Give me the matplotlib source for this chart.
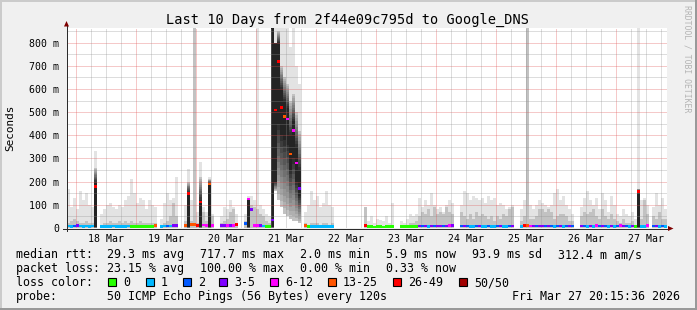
import numpy as np
import matplotlib
matplotlib.use("Agg")
import matplotlib.pyplot as plt
import matplotlib.dates as mdates
from matplotlib.patches import Rectangle, Polygon
from matplotlib.lines import Line2D
from datetime import datetime, timedelta

nan = float("nan")

# ---------------- data ----------------
title = "Last 10 Days from 2f44e09c795d to Google_DNS"
t_start = datetime(2026, 3, 17, 20, 15, 36)
t_end = datetime(2026, 3, 27, 20, 15, 36)

day_labels = ["18 Mar", "19 Mar", "20 Mar", "21 Mar", "22 Mar",
              "23 Mar", "24 Mar", "25 Mar", "26 Mar", "27 Mar"]
y_ticks = [0.0, 0.1, 0.2, 0.3, 0.4, 0.5, 0.6, 0.7, 0.8]
y_labels = ["0", "100 m", "200 m", "300 m", "400 m", "500 m", "600 m", "700 m", "800 m"]

loss_colors = ["#26ff00", "#00b8ff", "#0059ff", "#7e00ff",
               "#ff00ff", "#ff5500", "#ff0000", "#a10000"]
loss_labels = ["0", "1", "2", "3-5", "6-12", "13-25", "26-49", "50/50"]

# loss colour index per 72-minute bin (-1 = no data)
loss = [
    1, 1, 2, 3, 1, 1, 1, 1, 1, 6,
    -1,
    1, 1, 1, 1, 1, 1, 1, 1, 1, 1, 0, 0, 0, 0, 0, 0, 0, 0, 5,
    -1,
    1, 1, 2, 1, 3, 3,
    -1, -1,
    5, 6, 5, 5, 6, 6, 4, 4, 5, 4,
    -1, -1,
    3, 3, 4, 3, 4, 6,
    -1, -1,
    2, 4, 3, 4, 4, 3, 1, 0, 0, 3,
    6, 6, 6, 5, 4, 5, 4, 4, 3,
    -1,
    5, 0, 1, 1, 1, 1, 1, 1, 1, 1,
    -1, -1, -1, -1, -1, -1, -1, -1, -1, -1,
    6, 0, 0, 0, 0, 0, 0, 0, 0, 0,
    -1, -1,
    0, 0, 0, 0, 0, 0, 3, 2, 3, 1, 3, 2, 3, 3, 2, 3, 4, 3,
    -1, -1,
    2, 3, 2, 1, 1, 2, 3, 1, 1, 2, 1, 1, 2, 3, 1, 1, 2, 3,
    -1, -1,
    1, 6, 5, 4,
    3, 2, 3, 3, 2, 3, 2, 1, 2, 3, 1, 2, 3, 2,
    -1, -1,
    3, 2, 1, 3, 1, 4, 2, 3, 2, 1, 3, 1, 2, 4, 3, 2, 1, 3,
    0,
    6,
    1, 1, 4, -1, 2, 3, 1, 2, 1,
]

# median rtt (s)
med = [
    .008, .007, .009, .010, .008, .007, .008, .007, .008, .180,
    nan,
    .007, .007, .006, .007, .008, .007, .006, .007, .007, .008, .006, .006, .007, .006, .006, .007, .006, .006, .012,
    nan,
    .007, .008, .009, .008, .010, .011,
    nan, nan,
    .012, .150, .015, .014, .012, .112, .013, .011, .190, .012,
    nan, nan,
    .010, .011, .012, .010, .012, .015,
    nan, nan,
    .020, .125, .080, .012, .010, .010, .008, .007, .007, .035,
    .510, .718, .520, .480, .470, .320, .420, .280, .170,
    nan,
    .012, .006, .006, .007, .006, .006, .007, .006, .006, .007,
    nan, nan, nan, nan, nan, nan, nan, nan, nan, nan,
    .010, .006, .006, .005, .006, .006, .005, .006, .006, .006,
    nan, nan,
    .006, .006, .006, .006, .006, .007, .009, .008, .009, .007, .009, .008, .009, .009, .008, .009, .011, .010,
    nan, nan,
    .008, .009, .008, .007, .007, .008, .009, .007, .007, .008, .007, .007, .008, .009, .007, .007, .008, .009,
    nan, nan,
    .007, .012, .010, .009,
    .009, .008, .009, .009, .008, .009, .008, .007, .008, .009, .007, .008, .009, .008,
    nan, nan,
    .009, .008, .007, .009, .007, .010, .008, .009, .008, .007, .009, .007, .008, .010, .009, .008, .007, .009,
    .006,
    .157,
    .007, .007, .010, nan, .008, .009, .007, .008, .007,
]

# highest ping of each bin (top of the light smoke, s)
hi = [
    .17, .09, .13, .08, .16, .12, .15, .10, .09, .333,
    nan,
    .06, .08, .10, .11, .09, .08, .10, .09, .12, .14, .21, .15, .11, .13, .12, .08, .12, .10, .09,
    nan,
    .04, .11, .15, .12, .13, .22,
    nan, nan,
    .10, .255, .12, .95, .07, .283, .09, .07, .222, .06,
    nan, nan,
    .05, .09, .08, .12, .09, .06,
    nan, nan,
    .06, .14, .14, .12, .95, .10, .08, .06, .05, .95,
    .95, .95, .95, .95, .90, .78, .87, .70, .62,
    nan,
    .07, .10, .16, .12, .14, .09, .11, .16, .10, .09,
    nan, nan, nan, nan, nan, nan, nan, nan, nan, nan,
    .092, .03, .05, .02, .04, .035, .03, .05, .02, .11,
    nan, nan,
    .03, .02, .04, .06, .05, .06, .13, .09, .12, .10, .15, .10, .08, .09, .07, .10, .12, .11,
    nan, nan,
    .10, .16, .15, .12, .14, .13, .12, .13, .11, .14, .12, .13, .10, .11, .10, .08, .09, .10,
    nan, nan,
    .08, .12, .95, .10,
    .08, .10, .12, .11, .10, .09, .10, .15, .17, .12, .14, .10, .08, .06,
    nan, nan,
    .09, .13, .16, .12, .10, .13, .08, .15, .12, .07, .14, .10, .06, .05, .08, .06, .05, .07,
    .04,
    .95,
    .12, .13, .10, nan, .09, .15, .10, .13, .08,
]

# upper edge of the denser (mid-grey) smoke (s)
mid = [
    .02, .03, .04, .03, .02, .02, .03, .02, .02, .26,
    nan,
    .01, .02, .02, .03, .02, .02, .03, .02, .03, .02, .03, .02, .02, .03, .02, .02, .02, .02, .02,
    nan,
    .01, .02, .03, .05, .11, .05,
    nan, nan,
    .03, .20, .03, .95, .02, .22, .07, .03, .21, .05,
    nan, nan,
    .02, .03, .04, .07, .08, .02,
    nan, nan,
    .03, .13, .10, .09, .08, .06, .05, .03, .02, .87,
    .80, .85, .70, .65, .62, .55, .58, .50, .42,
    nan,
    .02, .01, .02, .02, .02, .01, .02, .02, .01, .02,
    nan, nan, nan, nan, nan, nan, nan, nan, nan, nan,
    .092, .01, .01, .01, .01, .01, .01, .01, .01, .01,
    nan, nan,
    .01, .01, .01, .02, .02, .03, .05, .07, .06, .08, .05, .09, .06, .07, .06, .09, .07, .06,
    nan, nan,
    .07, .05, .04, .06, .04, .07, .05, .06, .05, .04, .05, .03, .05, .04, .06, .05, .08, .09,
    nan, nan,
    .03, .05, .95, .04,
    .04, .05, .08, .08, .07, .08, .07, .04, .05, .06, .06, .05, .03, .03,
    nan, nan,
    .05, .07, .06, .07, .08, .05, .04, .08, .05, .04, .06, .04, .03, .02, .04, .02, .02, .03,
    .01,
    .17,
    .04, .12, .06, nan, .05, .04, .07, .04, .04,
]

# bins with a dense (black) core of pings
core_bins = [9, 40, 44, 47, 60, 68, 69, 70, 71, 72, 73, 74, 75, 76, 77, 190]
core_lo = [.004, .004, .004, .004, .004, .004, .20, .45, .40, .38, .36, .25, .30, .20, .14, .004]
core_hi = [.195, .150, .114, .193, .130, .870, .80, .80, .60, .55, .52, .40, .46, .35, .25, .160]

# bins whose lowest ping is well above zero
low_bins = [69, 70, 71, 72, 73, 74, 75, 76, 77]
low_vals = [.16, .12, .09, .06, .05, .04, .03, .03, .02]

rtt_stats = ["29.3 ms avg", "717.7 ms max", "2.0 ms min", "5.9 ms now", "93.9 ms sd", "312.4 m am/s"]
loss_stats = ["23.15 % avg", "100.00 % max", "0.00 % min", "0.33 % now"]
probe_text = "50 ICMP Echo Pings (56 Bytes) every 120s"
stamp_text = "Fri Mar 27 20:15:36 2026"

# ---------------- figure ----------------
W, H, DPI = 697, 310, 100
MONO = "DejaVu Sans Mono"
plt.rcParams["font.family"] = [MONO]

fig = plt.figure(figsize=(W / DPI, H / DPI), dpi=DPI)
fig.patch.set_facecolor("#f0f0f0")


def fx(x):
    return x / W


def fy(y):
    return 1 - y / H


# shaded frame
fig.add_artist(Rectangle((0, fy(2)), 1, 2 / H, transform=fig.transFigure, color="#cbcbcb", lw=0))
fig.add_artist(Rectangle((0, 0), 2 / W, 1, transform=fig.transFigure, color="#cbcbcb", lw=0))
fig.add_artist(Rectangle((0, 0), 1, 2.5 / H, transform=fig.transFigure, color="#999999", lw=0))
fig.add_artist(Rectangle((fx(W - 2.5), 0), 2.5 / W, 1, transform=fig.transFigure, color="#999999", lw=0))

PX_L, PX_R, PX_T, PX_B = 67, 667, 28, 228
PX_PER_S = 231.7
ax = fig.add_axes([fx(PX_L), fy(PX_B), (PX_R - PX_L) / W, (PX_B - PX_T) / H])
ax.set_facecolor("white")
x0 = mdates.date2num(t_start)
x1 = mdates.date2num(t_end)
ax.set_xlim(x0, x1)
ax.set_ylim(0, (PX_B - PX_T) / PX_PER_S)
for s in ax.spines.values():
    s.set_visible(False)

n = len(loss)
bw = (x1 - x0) / n
xs = x0 + bw * np.arange(n)
loss_a = np.array(loss)
med_a = np.array(med, float)
hi_a = np.array(hi, float)
mid_a = np.array(mid, float)
lo_a = np.zeros(n)
lo_a[low_bins] = low_vals

barkw = dict(width=bw, align="edge", linewidth=0, antialiased=False)
ok = np.isfinite(hi_a)
ax.bar(xs[ok], (hi_a - lo_a)[ok], bottom=lo_a[ok], color="#e3e3e3", zorder=1, **barkw)
okm = np.isfinite(mid_a)
ax.bar(xs[okm], (mid_a - lo_a)[okm], bottom=lo_a[okm], color="#c2c2c2", zorder=2, **barkw)

cb = np.array(core_bins)
c_lo = np.array(core_lo)
c_hi = np.array(core_hi)
env_top = np.where(np.isfinite(mid_a[cb]), mid_a[cb], hi_a[cb])
env_bot = lo_a[cb]
K = 12
for k in range(1, K + 1):
    t = k / K
    top = env_top + (c_hi - env_top) * t
    bot = env_bot + (c_lo - env_bot) * t
    g = 0.74 - 0.60 * t
    ax.bar(xs[cb], top - bot, bottom=bot, color=(g, g, g), zorder=3, **barkw)

# grid (drawn over the smoke, semi transparent as rrdtool does)
grid_c = (0.56, 0.56, 0.56, 0.30)
mgrid_c = (0.87, 0.31, 0.31, 0.30)
dash = (0, (1, 1))
for v in y_ticks[1:]:
    ax.axhline(v, color=mgrid_c, lw=0.72, ls=dash, antialiased=False, zorder=4)
    ax.axhline(v - 0.05, color=grid_c, lw=0.72, ls=dash, antialiased=False, zorder=4)
ax.axhline(y_ticks[-1] + 0.05, color=grid_c, lw=0.72, ls=dash, antialiased=False, zorder=4)

tt = datetime(2026, 3, 18, 0, 0)
while tt < t_end:
    c = mgrid_c if tt.hour == 0 else grid_c
    ax.axvline(mdates.date2num(tt), color=c, lw=0.72, ls=dash, antialiased=False, zorder=4)
    tt += timedelta(hours=6)

# median markers coloured by loss
okd = np.isfinite(med_a)
mh = 2.6 / PX_PER_S
cols = [loss_colors[c] for c in loss_a[okd]]
ax.bar(xs[okd], mh, bottom=med_a[okd] - mh / 2, color=cols, zorder=6, **barkw)

# ticks / labels
noons = [mdates.date2num(datetime(2026, 3, 18 + i, 12)) for i in range(len(day_labels))]
ax.set_xticks(noons)
ax.set_xticklabels(day_labels, fontsize=7.1, family=MONO)
ax.set_yticks(y_ticks)
ax.set_yticklabels(y_labels, fontsize=7.1, family=MONO)
ax.tick_params(axis="x", length=0, pad=4.3)
ax.tick_params(axis="y", length=0, pad=5.5)

# axes lines and arrows
axis_c = "#2c2c2c"
fig.add_artist(Line2D([fx(66.5), fx(66.5)], [fy(231), fy(24)], transform=fig.transFigure,
                      color=axis_c, lw=0.72, antialiased=False, zorder=10))
fig.add_artist(Line2D([fx(63), fx(669)], [fy(228.5), fy(228.5)], transform=fig.transFigure,
                      color=axis_c, lw=0.72, antialiased=False, zorder=10))
fig.add_artist(Polygon([(fx(64), fy(26.5)), (fx(69), fy(26.5)), (fx(66.5), fy(21))], closed=True,
                       transform=fig.transFigure, color="#7f0000", lw=0, zorder=11))
fig.add_artist(Polygon([(fx(668), fy(226)), (fx(668), fy(231)), (fx(673.5), fy(228.5))], closed=True,
                       transform=fig.transFigure, color="#7f0000", lw=0, zorder=11))

# title, unit, watermark
fig.text(fx(347.5), fy(24), title, ha="center", va="baseline", fontsize=9.8, family=MONO)
fig.text(fx(10.5), fy(128), "Seconds", rotation=90, ha="center", va="center", fontsize=7.9, family=MONO)
fig.text(fx(687.5), fy(59), "RRDTOOL / TOBI OETIKER", rotation=-90, ha="center", va="center",
         fontsize=5.9, family=MONO, color="#b4b4b4")

# legend
LF = 8.4
row_y = [258.3, 272.3, 286.3, 300.3]
fig.text(fx(16), fy(row_y[0]), "median rtt:", fontsize=LF, va="baseline", family=MONO)
for s, x in zip(rtt_stats, [107, 200, 300, 386, 472.5, 558]):
    fig.text(fx(x), fy(row_y[0]), s, fontsize=LF, va="baseline", family=MONO)
fig.text(fx(16), fy(row_y[1]), "packet loss:", fontsize=LF, va="baseline", family=MONO)
for s, x in zip(loss_stats, [107, 200, 300, 386]):
    fig.text(fx(x), fy(row_y[1]), s, fontsize=LF, va="baseline", family=MONO)
fig.text(fx(16), fy(row_y[2]), "loss color:", fontsize=LF, va="baseline", family=MONO)
box_x = [108, 146, 183, 219, 270, 328, 393, 459]
for c, lab, bx in zip(loss_colors, loss_labels, box_x):
    fig.add_artist(Rectangle((fx(bx), fy(row_y[2])), 8 / W, 8 / H, transform=fig.transFigure,
                             facecolor=c, edgecolor="black", lw=0.8))
    fig.text(fx(bx + 15), fy(row_y[2]), lab, fontsize=LF, va="baseline", family=MONO)
fig.text(fx(16), fy(row_y[3]), "probe:", fontsize=LF, va="baseline", family=MONO)
fig.text(fx(107), fy(row_y[3]), probe_text, fontsize=LF, va="baseline", family=MONO)
fig.text(fx(680), fy(row_y[3]), stamp_text, fontsize=LF, va="baseline", ha="right", family=MONO)

fig.savefig("out.png", dpi=DPI, facecolor=fig.get_facecolor())
